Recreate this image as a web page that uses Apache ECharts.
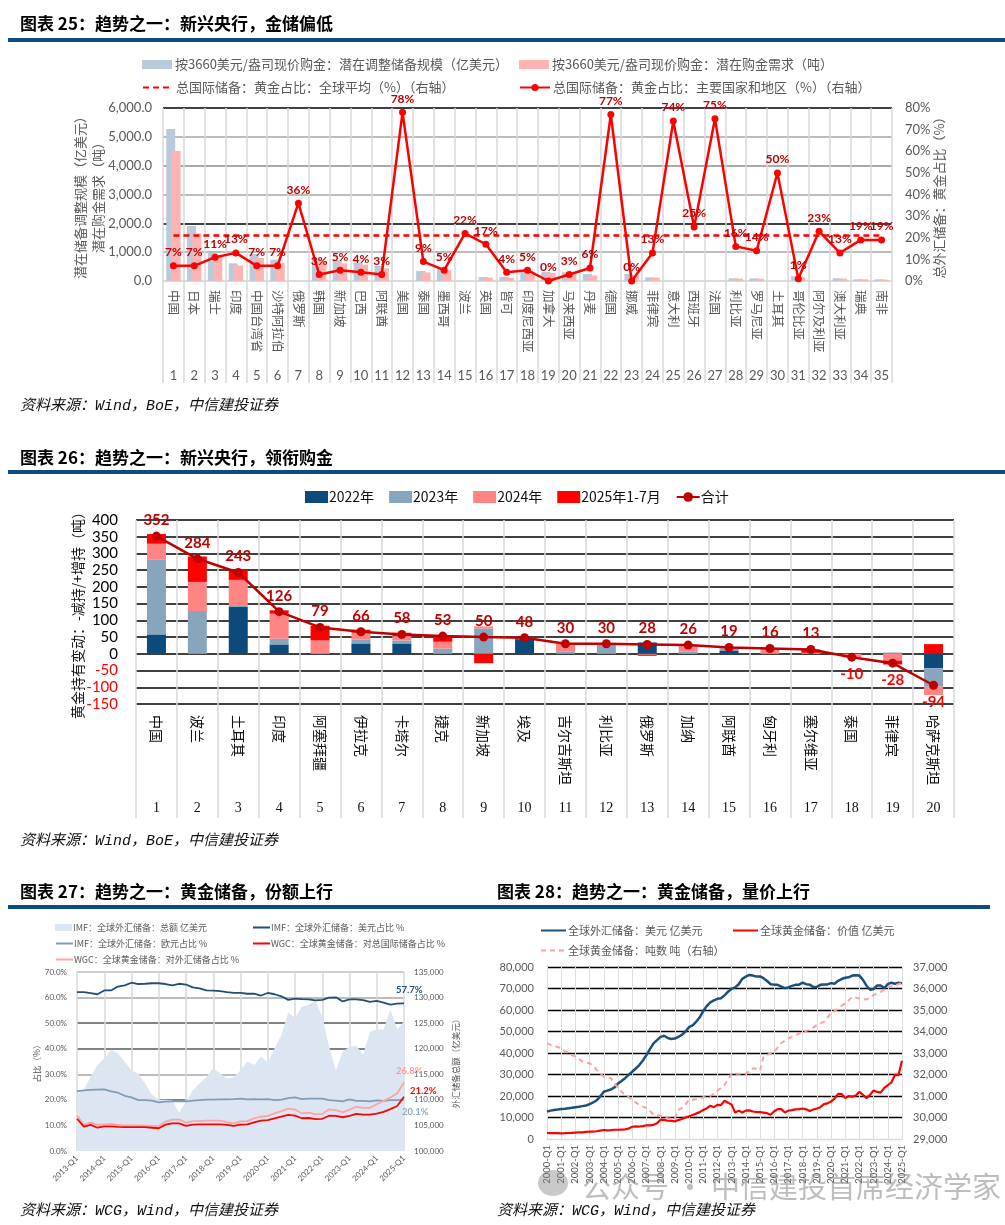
<!DOCTYPE html>
<html><head><meta charset="utf-8">
<script src="https://cdn.jsdelivr.net/npm/echarts@6/dist/echarts.min.js"></script>
<style>
html,body{margin:0;padding:0;background:#fff;}
#wrap{position:relative;width:1005px;height:1225px;overflow:hidden;background:#fff;}
#chart{position:absolute;left:0;top:0;width:1005px;height:1225px;}
.title{position:absolute;font-family:'Noto Sans CJK SC',sans-serif;font-weight:bold;font-size:17px;color:#000;line-height:20px;white-space:nowrap;}
.rule{position:absolute;height:4px;background:#0b4c84;}
.src{position:absolute;font-family:'Liberation Mono','Noto Sans CJK SC',monospace;font-style:italic;font-size:15px;color:#111;line-height:18px;white-space:nowrap;}
.wm{position:absolute;font-family:'Noto Sans CJK SC',sans-serif;font-size:29px;color:rgba(135,135,135,0.55);white-space:nowrap;line-height:34px;}
.wmi{position:absolute;width:30px;height:26px;border-radius:50%;background:rgba(135,135,135,0.45);}
</style></head><body>
<div id="wrap">
<div id="chart"></div>
<div class="title" style="left:20px;top:13px">图表 25：趋势之一：新兴央行，金储偏低</div>
<div class="rule" style="left:8px;top:38px;width:997px"></div>
<div class="src" style="left:20px;top:398px">资料来源：Wind，BoE，中信建投证券</div>
<div class="title" style="left:20px;top:447px">图表 26：趋势之一：新兴央行，领衔购金</div>
<div class="rule" style="left:8px;top:470px;width:997px"></div>
<div class="src" style="left:20px;top:833px">资料来源：Wind，BoE，中信建投证券</div>
<div class="title" style="left:20px;top:881px">图表 27：趋势之一：黄金储备，份额上行</div>
<div class="rule" style="left:8px;top:905px;width:485px"></div>
<div class="title" style="left:497px;top:881px">图表 28：趋势之一：黄金储备，量价上行</div>
<div class="rule" style="left:493px;top:905px;width:497px"></div>
<div class="src" style="left:20px;top:1203px">资料来源：WCG，Wind，中信建投证券</div>
<div class="src" style="left:497px;top:1203px">资料来源：WCG，Wind，中信建投证券</div>
<div class="wmi" style="left:538px;top:1170px"></div>
<div class="wm" style="left:582px;top:1168px">公众号 · 中信建投首席经济学家</div>
</div>
<script>
// ---------- Chart 25 data ----------
const names25 = ['中国','日本','瑞士','印度','中国台湾省','沙特阿拉伯','俄罗斯','韩国','新加坡','巴西','阿联酋','美国','泰国','墨西哥','波兰','英国','皆可','印度尼西亚','加拿大','马来西亚','丹麦','德国','挪威','菲律宾','意大利','西班牙','法国','利比亚','罗马尼亚','土耳其','哥伦比亚','阿尔及利亚','澳大利亚','瑞典','南非'];
const nums25 = ['1','2','3','4','5','6','7','8','9','10','11','12','13','14','15','16','17','18','19','20','21','22','23','24','25','26','27','28','29','30','31','32','33','34','35'];
const reserveAdjust25 = [5272,1908,980,613,936,740,0,780,717,636,520,0,347,439,0,139,139,312,312,300,243,0,243,127,0,0,0,92,92,0,162,0,92,58,58];
const goldDemand25 = [4509,1653,850,532,798,636,0,670,613,566,439,0,300,381,0,116,116,254,277,254,197,0,197,116,0,0,0,81,81,0,127,0,81,58,46];
const goldShare25 = [7,7,11,13,7,7,36,3,5,4,3,78,9,5,22,17,4,5,0,3,6,77,0,13,74,25,75,16,14,50,1,23,13,19,19];
const globalAvgShare25 = 21.2;

// ---------- Chart 26 data ----------
const names26 = ['中国','波兰','土耳其','印度','阿塞拜疆','伊拉克','卡塔尔','捷克','新加坡','埃及','吉尔吉斯坦','利比亚','俄罗斯','加纳','阿联酋','匈牙利','塞尔维亚','泰国','菲律宾','哈萨克斯坦'];
const nums26 = ['1','2','3','4','5','6','7','8','9','10','11','12','13','14','15','16','17','18','19','20'];
const buy2022 = [58,0,140,28,0,31,31,0,0,44,0,0,34,0,10,0,0,0,0,-43];
const buy2023 = [225,128,3,17,0,12,9,16,76,4,6,30,0,7,6,0,0,0,4,-55];
const buy2024 = [46,87,78,75,40,20,13,20,6,0,24,0,-3,19,3,16,3,-10,-20,-25];
const buy2025 = [29,76,29,10,44,9,10,19,-28,0,0,0,-3,0,0,0,10,0,-12,29];
const total26 = [352,284,243,126,79,66,58,53,50,48,30,30,28,26,19,16,13,-10,-28,-94];

// ---------- Chart 27 data (2013-Q1 .. 2025-Q1) ----------
const fxTotal27 = [111150,111900,114500,116800,118100,119800,119100,117500,115800,115100,113200,111000,110000,110000,109900,107500,109700,111900,113200,114500,116200,115200,114200,114400,115800,117500,116800,118500,117300,120100,122700,127100,126000,128200,128600,129400,126300,120400,115800,119400,120400,120600,118800,123300,123800,123700,127700,123800,125300];
const usdShare27 = [62.1,62.1,61.7,61.3,62.8,62.8,64.3,64.8,65.8,65.3,65.4,65.6,65.6,65.3,64.8,65.4,65.1,64.0,63.6,62.8,62.7,62.5,62.1,61.8,61.8,61.5,61.5,60.8,61.8,61.3,60.5,59.1,59.6,59.4,59.3,58.9,59.1,60.0,60.1,58.5,59.3,59.3,59.0,58.3,58.7,58.0,57.2,57.6,57.7];
const eurShare27 = [23.3,23.7,23.9,24.0,24.1,23.3,22.8,21.6,21.0,19.9,19.9,19.7,19.0,19.3,19.4,19.4,19.4,19.7,19.9,20.1,20.1,20.2,20.2,20.3,20.5,20.2,20.3,20.2,20.3,19.9,20.1,20.7,21.0,20.3,20.5,20.5,20.5,19.9,19.7,19.4,20.2,19.6,19.6,19.4,19.8,19.6,19.9,19.9,20.1];
const goldTotalShare27 = [12.6,9.5,10.2,9.1,9.6,9.6,9.4,9.3,9.3,9.3,9.3,9.1,8.9,10.3,10.8,10.8,9.8,10.3,10.4,10.4,10.4,10.4,10.2,9.8,10.3,10.4,11.2,11.9,12.1,12.8,13.4,14.1,13.8,12.8,12.9,12.5,12.6,13.8,13.7,13.2,13.7,14.5,14.2,14.2,14.6,15.3,16.4,17.6,21.2];
const goldFxShare27 = [14.0,10.2,11.1,10.3,10.4,10.6,10.2,10.0,10.0,10.0,9.9,9.8,9.8,11.5,12.3,12.3,11.1,11.7,11.7,11.9,11.9,11.9,11.3,10.8,11.6,11.7,12.8,13.4,13.7,14.7,15.6,16.6,16.2,14.7,15.0,14.3,14.5,16.3,16.0,15.1,16.2,17.3,16.9,16.9,18.3,19.6,20.9,22.6,26.8];

// ---------- Chart 28 data (2000-Q1 .. 2025-Q1) ----------
const fxUsd28 = [
 12800,13200,13500,13700, 14000,14100,14300,14500, 14800,15000,15300,15600, 16200,17000,18000,19800,
 22000,22500,23000,24000, 25800,27000,28300,29800, 31300,32800,34400,36500, 39000,41800,44500,46000,
 47500,48000,47000,46500, 46700,47500,48500,50000, 52000,52800,54500,56500, 59500,61800,63500,64500,
 65200,65500,66800,68500, 69900,70500,72000,74500, 75500,76300,76000,75600, 75600,74800,73500,72000,
 71800,71700,70900,70200, 70500,71200,71700,71800, 72700,72000,71800,70700, 70800,71700,71900,71900,
 72500,72200,73600,74400, 75000,75200,76000,76200, 76000,74000,71300,69400, 69800,71400,71400,70200,
 72000,72700,72200,72700, 72500];
const goldValue28 = [
 2800,2750,2700,2750, 2650,2700,2800,2850, 3000,3150,3100,3300, 3400,3450,3600,3900,
 4200,4000,4100,4300, 4300,4400,4500,4900, 5700,5900,5800,6000, 6400,6300,6600,7300,
 9000,8900,8500,8400, 8200,8800,9300,10000, 10500,11200,11800,12500, 13500,14200,15500,14800,
 15900,15800,17800,16900, 16000,12300,13200,12300, 13200,13300,12800,12500, 12500,12300,12000,11300,
 12900,13900,13900,12300, 13200,13400,13800,13900, 14200,13800,13000,13700, 14200,14800,16200,16600,
 17400,18800,21000,20900, 19000,19900,19700,20200, 22000,20500,19000,20500, 22600,21900,21600,23800,
 25000,26300,29800,29700, 36400];
const goldTons28 = [
 33450,33380,33320,33280, 33220,33100,33000,32900, 32830,32720,32600,32560, 32520,32400,32210,32050,
 31900,31870,31830,31600, 31360,31200,31050,30950, 30820,30700,30590,30520, 30440,30300,30130,30100,
 30080,30000,29970,29950, 29970,30350,30440,30600, 30820,30830,30850,30900, 30930,30960,31000,31100,
 31240,31380,31520,31750, 32030,32030,32030,32030, 32030,32150,32290,32250, 32180,32830,32900,33000,
 33060,33250,33450,33580, 33680,33750,33830,33900, 33990,34030,34070,34180, 34300,34380,34450,34650,
 34840,34950,35070,35200, 35300,35450,35610,35580, 35530,35500,35490,35580, 35690,35760,35840,35950,
 36070,36100,36150,36200, 36260];

function quarters(y0, y1) { const out = []; for (let y = y0; y <= y1; y++) { for (let q = 1; q <= 4; q++) { out.push(y + '-Q' + q); if (y === y1) return out; } } return out; }
const q27 = quarters(2013, 2025);
const q28 = quarters(2000, 2025);

const CJK = "'Noto Sans CJK SC', sans-serif";
const NUM = "Lato, 'Noto Sans CJK SC', sans-serif";
const GRAY = '#595959';

const A1 = '按3660美元/盎司现价购金：潜在调整储备规模（亿美元）';
const A2 = '按3660美元/盎司现价购金：潜在购金需求（吨）';
const A3 = '总国际储备：黄金占比：全球平均（%）（右轴）';
const A4 = '总国际储备：黄金占比：主要国家和地区（%）（右轴）';
const C1 = 'IMF：全球外汇储备：总额 亿美元';
const C2 = 'IMF：全球外汇储备：美元占比 %';
const C3 = 'IMF：全球外汇储备：欧元占比 %';
const C4 = 'WGC：全球黄金储备：对总国际储备占比 %';
const C5 = 'WGC：全球黄金储备：对外汇储备占比 %';
const D1 = '全球外汇储备：美元 亿美元';
const D2 = '全球黄金储备：价值 亿美元';
const D3 = '全球黄金储备：吨数 吨（右轴）';

function lg(name, left, top, opts) {
  return Object.assign({
    data: [name], left: left, top: top, itemWidth: 30, itemHeight: 9, itemGap: 10,
    textStyle: { fontFamily: CJK, fontSize: 13, color: GRAY, padding: [0, 0, 0, -2] },
    selectedMode: false
  }, opts || {});
}
const noDot = { itemStyle: { opacity: 0 } };
const smallTxt = { fontFamily: CJK, fontSize: 9, color: GRAY, padding: [0, 0, 0, -4] };
const midTxt = { fontFamily: CJK, fontSize: 11, color: GRAY, padding: [0, 0, 0, -3] };

const total26Data = total26.map(v => v < 0 ? { value: v, label: { position: 'bottom', color: '#ff0000', distance: 5 } } : v);

const chart = echarts.init(document.getElementById('chart'), null, { renderer: 'canvas' });
const option = {
  animation: false,
  backgroundColor: 'transparent',
  textStyle: { fontFamily: NUM },
  legend: [
    lg(A1, 137, 53, { icon: 'rect' }),
    lg(A2, 514, 53, { icon: 'rect' }),
    lg(A3, 137, 76, noDot),
    lg(A4, 514, 76),
    { data: [{ name: '2022年', icon: 'rect' }, { name: '2023年', icon: 'rect' }, { name: '2024年', icon: 'rect' }, { name: '2025年1-7月', icon: 'rect' }, { name: '合计' }],
      left: 300, top: 485, itemWidth: 23, itemHeight: 12, itemGap: 15,
      textStyle: { fontFamily: CJK, fontSize: 14, color: '#111', padding: [0, 0, 0, -4] }, selectedMode: false },
    lg(C1, 50, 918, { itemWidth: 17, itemHeight: 7, data: [{ name: C1, icon: 'rect' }], textStyle: smallTxt }),
    lg(C2, 247, 918, Object.assign({ itemWidth: 17, itemHeight: 7, textStyle: smallTxt }, noDot)),
    lg(C3, 50, 934, Object.assign({ itemWidth: 17, itemHeight: 7, textStyle: smallTxt }, noDot)),
    lg(C4, 247, 934, Object.assign({ itemWidth: 17, itemHeight: 7, textStyle: smallTxt }, noDot)),
    lg(C5, 50, 950, Object.assign({ itemWidth: 17, itemHeight: 7, textStyle: smallTxt }, noDot)),
    lg(D1, 535, 920, Object.assign({ itemWidth: 25, itemHeight: 6, textStyle: midTxt }, noDot)),
    lg(D2, 727, 920, Object.assign({ itemWidth: 25, itemHeight: 6, textStyle: midTxt }, noDot)),
    lg(D3, 535, 940, Object.assign({ itemWidth: 25, itemHeight: 6, textStyle: midTxt }, noDot))
  ],
  grid: [
    { left: 163, top: 108, width: 729, height: 173 },
    { left: 136, top: 520, width: 818, height: 184 },
    { left: 77, top: 972, width: 327, height: 179 },
    { left: 547, top: 967, width: 355, height: 172 }
  ],
  xAxis: [
    { gridIndex: 0, type: 'category', data: names25, boundaryGap: true,
      axisLine: { lineStyle: { color: '#d9d9d9', width: 1.5 } },
      axisTick: { show: true, length: 102, interval: 0, lineStyle: { color: '#d9d9d9', width: 1.5 } },
      splitLine: { show: true, interval: 0, lineStyle: { color: '#d9d9d9', width: 1.5 } },
      axisLabel: { interval: 0, rotate: -90, margin: 9, fontSize: 12.5, color: GRAY, fontFamily: CJK } },
    { gridIndex: 0, type: 'category', data: nums25, position: 'bottom', offset: 80,
      axisLine: { show: false }, axisTick: { show: false }, splitLine: { show: false },
      axisLabel: { interval: 0, fontSize: 13, color: GRAY, fontFamily: NUM, margin: 8 } },
    { gridIndex: 1, type: 'category', data: names26, boundaryGap: true,
      axisLine: { show: false, onZero: false },
      axisTick: { show: true, length: 114, interval: 0, lineStyle: { color: '#d9d9d9', width: 1.5 } },
      splitLine: { show: true, interval: 0, lineStyle: { color: '#d9d9d9', width: 1.5 } },
      axisLabel: { interval: 0, rotate: -90, margin: 11, fontSize: 14, color: '#111', fontFamily: CJK } },
    { gridIndex: 1, type: 'category', data: nums26, position: 'bottom', offset: 89,
      axisLine: { show: false, onZero: false }, axisTick: { show: false }, splitLine: { show: false },
      axisLabel: { interval: 0, fontSize: 14, color: '#111', fontFamily: "'Liberation Serif', serif", margin: 8 } },
    { gridIndex: 2, type: 'category', data: q27, boundaryGap: false,
      axisLine: { show: false }, axisTick: { show: false },
      splitLine: { show: true, interval: 3, lineStyle: { color: '#d9d9d9', width: 1.5 } },
      axisLabel: { interval: 3, rotate: 45, fontSize: 8, color: GRAY, margin: 6, fontFamily: NUM } },
    { gridIndex: 3, type: 'category', data: q28, boundaryGap: false,
      axisLine: { lineStyle: { color: '#d9d9d9', width: 1.2 } }, axisTick: { show: false },
      splitLine: { show: true, interval: 3, lineStyle: { color: '#dedede', width: 1 } },
      axisLabel: { interval: 3, rotate: 90, fontSize: 9.5, color: GRAY, margin: 6, fontFamily: NUM } }
  ],
  yAxis: [
    { gridIndex: 0, type: 'value', min: 0, max: 6000, interval: 1000,
      axisLine: { show: false }, axisTick: { show: false },
      splitLine: { lineStyle: { width: 1.5, color: ['#d9d9d9', '#a6a6a6', '#000000', '#a6a6a6', '#8c8c8c', '#a6a6a6', '#000000'] } },
      axisLabel: { fontSize: 13, color: GRAY, margin: 11, fontFamily: NUM,
        formatter: v => v.toLocaleString('en-US', { minimumFractionDigits: 1, maximumFractionDigits: 1 }) },
      name: '潜在储备调整规模（亿美元）\n潜在购金需求（吨）', nameLocation: 'middle', nameRotate: 90, nameGap: 56, nameMoveOverlap: false,
      nameTextStyle: { fontFamily: CJK, fontSize: 13, color: GRAY, lineHeight: 18 } },
    { gridIndex: 0, type: 'value', min: 0, max: 80, interval: 10, position: 'right',
      axisLine: { show: false }, axisTick: { show: false }, splitLine: { show: false },
      axisLabel: { fontSize: 13, color: GRAY, margin: 13, formatter: '{value}%', fontFamily: NUM },
      name: '总外汇储备：黄金占比（%）', nameLocation: 'middle', nameRotate: 90, nameGap: 41, nameMoveOverlap: false,
      nameTextStyle: { fontFamily: CJK, fontSize: 13, color: GRAY } },
    { gridIndex: 1, type: 'value', min: -150, max: 400, interval: 50,
      axisLine: { show: false }, axisTick: { show: false },
      splitLine: { lineStyle: { color: '#000', width: 1.5 } },
      axisLabel: { fontSize: 15, margin: 18, fontFamily: NUM, color: v => (Number(v) < 0 ? '#ff0000' : '#000') },
      name: '黄金持有变动：-减持/+增持（吨）', nameLocation: 'middle', nameRotate: 90, nameGap: 51, nameMoveOverlap: false,
      nameTextStyle: { fontFamily: CJK, fontSize: 14, color: '#111' } },
    { gridIndex: 2, type: 'value', min: 0, max: 70, interval: 10,
      axisLine: { show: false }, axisTick: { show: false },
      splitLine: { lineStyle: { width: 1.5, color: ['rgba(0,0,0,0)', '#a6a6a6', '#595959', '#a6a6a6', '#595959', '#595959', '#a6a6a6', '#bfbfbf'] } },
      axisLabel: { fontSize: 8, color: GRAY, margin: 10, fontFamily: NUM, formatter: v => v.toFixed(1) + '%' },
      name: '占比（%）', nameLocation: 'middle', nameRotate: 90, nameGap: 36,
      nameTextStyle: { fontFamily: CJK, fontSize: 8.5, color: GRAY } },
    { gridIndex: 2, type: 'value', min: 100000, max: 135000, interval: 5000, position: 'right',
      axisLine: { show: false }, axisTick: { show: false }, splitLine: { show: false },
      axisLabel: { fontSize: 8, color: GRAY, margin: 10, fontFamily: NUM, formatter: v => v.toLocaleString('en-US') },
      name: '外汇储备总额（亿美元）', nameLocation: 'middle', nameRotate: 90, nameGap: 48,
      nameTextStyle: { fontFamily: CJK, fontSize: 8.5, color: GRAY } },
    { gridIndex: 3, type: 'value', min: 0, max: 80000, interval: 10000,
      axisLine: { show: false }, axisTick: { show: false },
      splitLine: { lineStyle: { width: 1.3, color: ['#d9d9d9', '#000', '#000', '#000', '#000', '#000', '#000', '#000', '#000'] } },
      axisLabel: { fontSize: 11, color: GRAY, margin: 13, fontFamily: NUM, formatter: v => v.toLocaleString('en-US') } },
    { gridIndex: 3, type: 'value', min: 29000, max: 37000, interval: 1000, position: 'right',
      axisLine: { show: false }, axisTick: { show: false }, splitLine: { show: false },
      axisLabel: { fontSize: 11, color: GRAY, margin: 11, fontFamily: NUM, formatter: v => v.toLocaleString('en-US') } }
  ],
  series: [
    // ---- Chart 25 ----
    { type: 'bar', name: A1, xAxisIndex: 0, yAxisIndex: 0, data: reserveAdjust25, barWidth: 9, barGap: '-40%',
      itemStyle: { color: '#b9cadb' } },
    { type: 'bar', name: A2, xAxisIndex: 0, yAxisIndex: 0, data: goldDemand25, barWidth: 9, barGap: '-40%',
      itemStyle: { color: '#ffb3b3' } },
    { type: 'line', name: A3, xAxisIndex: 0, yAxisIndex: 1, data: [], symbol: 'none',
      lineStyle: { color: '#ff0000', width: 2.5, type: [6, 4] }, itemStyle: { color: '#ff0000' },
      markLine: { silent: true, symbol: 'none', label: { show: false },
        lineStyle: { color: '#ff0000', width: 2.5, type: [6, 4] },
        data: [[{ coord: [0, globalAvgShare25] }, { coord: [34, globalAvgShare25] }]] } },
    { type: 'line', name: A4, xAxisIndex: 0, yAxisIndex: 1, data: goldShare25, z: 5,
      symbol: 'circle', symbolSize: 7, lineStyle: { color: '#ff0000', width: 2.5 }, itemStyle: { color: '#ff0000' },
      label: { show: true, position: 'top', distance: 4, formatter: '{c}%', color: '#c00000', fontWeight: 'bold', fontSize: 12, fontFamily: NUM } },
    // ---- Chart 26 ----
    { type: 'bar', name: '2022年', xAxisIndex: 2, yAxisIndex: 2, stack: 'g', data: buy2022, barWidth: 19, itemStyle: { color: '#0d4a7c' } },
    { type: 'bar', name: '2023年', xAxisIndex: 2, yAxisIndex: 2, stack: 'g', data: buy2023, barWidth: 19, itemStyle: { color: '#87a6be' } },
    { type: 'bar', name: '2024年', xAxisIndex: 2, yAxisIndex: 2, stack: 'g', data: buy2024, barWidth: 19, itemStyle: { color: '#ff8585' } },
    { type: 'bar', name: '2025年1-7月', xAxisIndex: 2, yAxisIndex: 2, stack: 'g', data: buy2025, barWidth: 19, itemStyle: { color: '#ff0000' } },
    { type: 'line', name: '合计', xAxisIndex: 2, yAxisIndex: 2, data: total26Data, z: 5,
      symbol: 'circle', symbolSize: 9, lineStyle: { color: '#c00000', width: 2.5 }, itemStyle: { color: '#c00000' },
      label: { show: true, position: 'top', distance: 4, color: '#c00000', fontWeight: 'bold', fontSize: 15, fontFamily: NUM } },
    // ---- Chart 27 ----
    { type: 'line', name: C1, xAxisIndex: 4, yAxisIndex: 4, data: fxTotal27, symbol: 'none',
      lineStyle: { width: 0, color: '#dce6f2' }, itemStyle: { color: '#dce6f2' },
      areaStyle: { color: '#dce6f2', opacity: 1 } },
    { type: 'line', name: C2, xAxisIndex: 4, yAxisIndex: 3, data: usdShare27, symbol: 'none',
      lineStyle: { width: 1.8, color: '#1f4e79' }, itemStyle: { color: '#1f4e79' },
      endLabel: { show: true, formatter: '{c}%', color: '#1f4e79', fontWeight: 'bold', fontSize: 9.5, offset: [-16, -14], fontFamily: NUM } },
    { type: 'line', name: C3, xAxisIndex: 4, yAxisIndex: 3, data: eurShare27, symbol: 'none',
      lineStyle: { width: 1.8, color: '#7e9db8' }, itemStyle: { color: '#7e9db8' },
      endLabel: { show: true, formatter: '{c}%', color: '#8eaac4', fontWeight: 'bold', fontSize: 9.5, offset: [-10, 12], fontFamily: NUM } },
    { type: 'line', name: C4, xAxisIndex: 4, yAxisIndex: 3, data: goldTotalShare27, symbol: 'none', z: 4,
      lineStyle: { width: 1.8, color: '#ff0000' }, itemStyle: { color: '#ff0000' },
      endLabel: { show: true, formatter: '{c}%', color: '#ff0000', fontWeight: 'bold', fontSize: 9.5, offset: [-2, -6], fontFamily: NUM } },
    { type: 'line', name: C5, xAxisIndex: 4, yAxisIndex: 3, data: goldFxShare27, symbol: 'none',
      lineStyle: { width: 1.8, color: '#ffa3a3' }, itemStyle: { color: '#ffa3a3' },
      endLabel: { show: true, formatter: '{c}%', color: '#ff9999', fontWeight: 'bold', fontSize: 9.5, offset: [-16, -12], fontFamily: NUM } },
    // ---- Chart 28 ----
    { type: 'line', name: D1, xAxisIndex: 5, yAxisIndex: 5, data: fxUsd28, symbol: 'none',
      lineStyle: { width: 2.5, color: '#1b4f7c' }, itemStyle: { color: '#1b4f7c' } },
    { type: 'line', name: D2, xAxisIndex: 5, yAxisIndex: 5, data: goldValue28, symbol: 'none',
      lineStyle: { width: 2.2, color: '#ff0000' }, itemStyle: { color: '#ff0000' } },
    { type: 'line', name: D3, xAxisIndex: 5, yAxisIndex: 6, data: goldTons28, symbol: 'none',
      lineStyle: { width: 2, color: '#ffa0a0', type: [5, 4] }, itemStyle: { color: '#ffa0a0' } }
  ]
};
chart.setOption(option);
</script>
</body></html>
